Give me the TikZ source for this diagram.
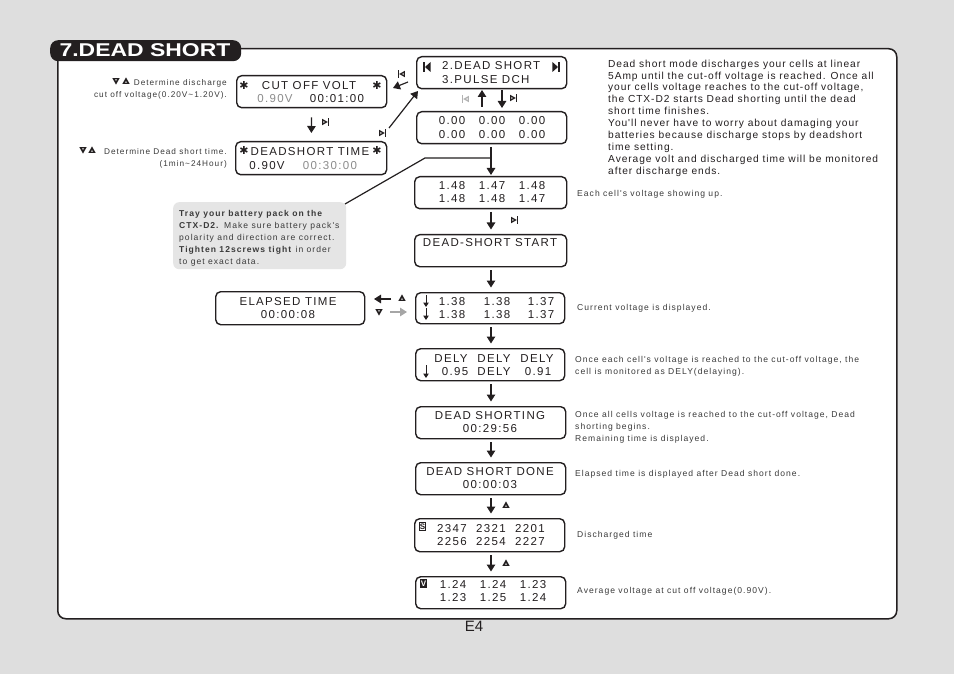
\documentclass[tikz,border=0pt]{standalone}
\usepackage{fontspec}
\usetikzlibrary{arrows.meta}
\setmainfont{Liberation Sans}
\newfontfamily\lcdf[LetterSpace=11.5]{Liberation Sans}
\newfontfamily\capf[LetterSpace=12]{Liberation Sans}
\newfontfamily\parf[LetterSpace=9.2]{Liberation Sans}
\newfontfamily\symf{DejaVu Sans}
\definecolor{bgc}{HTML}{DEDEDE}
\definecolor{ink}{HTML}{231F20}
\definecolor{dimc}{HTML}{8C8C8C}
\definecolor{capc}{HTML}{3A3A3A}
\definecolor{notec}{HTML}{E5E5E5}
\tikzset{
 lcdbox/.style={draw=ink,line width=1.4pt,rounded corners=5pt,fill=white,inner sep=0pt,anchor=north west},
 lcd/.style={font=\lcdf\fontsize{11.5}{13}\selectfont,text=ink,inner sep=0pt,anchor=mid,yshift=-2pt},
 lcddim/.style={lcd,text=dimc},
 lcdl/.style={lcd,anchor=mid west},
 lcdstar/.style={font=\symf\fontsize{11}{12}\selectfont,text=ink,inner sep=0pt},
 capt/.style={font=\capf\fontsize{8.55}{10}\selectfont,text=capc,inner sep=0pt,anchor=mid west,yshift=-1pt},
 capr/.style={capt,font=\capf\fontsize{8.25}{10}\selectfont,anchor=mid east},
 para/.style={font=\parf\fontsize{10.2}{12}\selectfont,text=ink,inner sep=0pt,anchor=mid west,yshift=-1pt},
 tiptext/.style={capt},
 flow/.style={draw=ink,line width=1.2pt,-{Triangle[length=7pt,width=8.5pt]}},
 flowg/.style={flow,draw=gray!70,-{Triangle[length=7pt,width=8.5pt,color=gray!70]}},
 lead/.style={draw=ink,line width=1.2pt},
 mini/.style={draw=ink,line width=1pt,-{Triangle[length=4.5pt,width=5.5pt]}},
 pics/btnup/.style={code={\fill[#1] (-3.6,2.8) -- (3.6,2.8) -- (0,-3.6) -- cycle;
   \fill[white] (-1,1.7) -- (1,1.7) -- (0,.2) -- cycle;}},
 pics/btndn/.style={code={\fill[#1] (-3.6,-2.8) -- (3.6,-2.8) -- (0,3.6) -- cycle;
   \fill[white] (-1,-1.7) -- (1,-1.7) -- (0,-.2) -- cycle;}},
 pics/btnnext/.style={code={\fill[#1] (-3.8,-3.2) -- (-3.8,3.2) -- (1.8,0) -- cycle;
   \fill[white] (-2.7,-.9) -- (-2.7,.9) -- (-1.1,0) -- cycle;
   \fill[#1] (2.2,-3.6) rectangle (3.2,3.6);}},
 pics/btnprev/.style={code={\fill[#1] (3.8,-3.2) -- (3.8,3.2) -- (-1.8,0) -- cycle;
   \fill[white] (2.7,-.9) -- (2.7,.9) -- (1.1,0) -- cycle;
   \fill[#1] (-2.2,-3.6) rectangle (-3.2,3.6);}},
 pics/menuprev/.style={code={\fill[ink] (-3.6,-5) rectangle (-2.4,5);
   \fill[ink] (3.6,-5) -- (3.6,5) -- (-2,0) -- cycle;}},
 pics/menunext/.style={code={\fill[ink] (3.6,-5) rectangle (2.4,5);
   \fill[ink] (-3.6,-5) -- (-3.6,5) -- (2,0) -- cycle;}},
}
\newcounter{tn}
\newcommand{\TT}[4]{\stepcounter{tn}\node[#1] (t\arabic{tn}) at (#2,#3) {#4};}
\newcommand{\LBox}[5]{\node[lcdbox,minimum width=#4pt-#2pt,minimum height=#5pt-#3pt] (#1) at (#2,#3) {};}
\begin{document}
\begin{tikzpicture}[x=1pt,y=-1pt]
\useasboundingbox (0,0) rectangle (954,674);
\fill[bgc] (0,0) rectangle (954,674);
\node[draw=ink,line width=1.5pt,fill=white,rounded corners=8pt,inner sep=0pt,anchor=north west,minimum width=839pt,minimum height=570pt] (frame) at (57,48) {};
\node[fill=ink,rounded corners=8pt,inner sep=0pt,anchor=north west,minimum width=191pt,minimum height=21pt] (titlebar) at (50,40) {};
\node[font=\bfseries\fontsize{18.5}{20}\selectfont,text=white,inner sep=0pt,xscale=1.24] (title) at (145,50) {7.DEAD SHORT};
\node[font=\fontsize{15}{16}\selectfont,text=ink,inner sep=0pt] (page) at (474,626.5) {E4};
% boxes
\LBox{cut}{236}{75}{386}{107}
\LBox{time}{235}{141}{386}{174}
\LBox{menu}{416}{56}{566}{88}
\LBox{zero}{416}{111}{566}{143}
\LBox{cells}{414}{176}{566}{208}
\LBox{start}{414}{234}{566}{266}
\LBox{elapsed}{215}{291}{364}{324}
\LBox{cur}{415}{292}{564}{323}
\LBox{dely}{415}{348}{564}{380}
\LBox{shorting}{415}{406}{565}{438}
\LBox{done}{415}{462}{565}{494}
\LBox{dis}{414}{518}{564}{551}
\LBox{avg}{415}{576}{565}{608}
\node[fill=notec,rounded corners=6pt,inner sep=0pt,anchor=north west,minimum width=173pt,minimum height=67pt] (tip) at (173,202) {};
% lcd text
\TT{lcdstar}{244}{85}{✱}\TT{lcdstar}{377}{85}{✱}
\TT{lcd}{309}{85}{CUT OFF VOLT}
\TT{lcddim}{275}{98}{0.90V}\TT{lcd}{337}{98}{00:01:00}
\TT{lcdstar}{244}{150}{✱}\TT{lcdstar}{377}{150}{✱}
\TT{lcd}{310}{151}{DEADSHORT TIME}
\TT{lcd}{267}{165}{0.90V}\TT{lcddim}{330}{165}{00:30:00}
\TT{lcdl}{442}{65}{2.DEAD SHORT}\TT{lcdl}{442}{79}{3.PULSE DCH}
\foreach \c in {452,492,532}{\foreach \r in {120,134}{\TT{lcd}{\c}{\r}{0.00}}}
\TT{lcd}{452}{185}{1.48}\TT{lcd}{492}{185}{1.47}\TT{lcd}{532}{185}{1.48}
\TT{lcd}{452}{198}{1.48}\TT{lcd}{492}{198}{1.48}\TT{lcd}{532}{198}{1.47}
\TT{lcd}{490}{242}{DEAD-SHORT START}
\TT{lcd}{288}{301}{ELAPSED TIME}\TT{lcd}{288}{314}{00:00:08}
\TT{lcd}{452}{301}{1.38}\TT{lcd}{497}{301}{1.38}\TT{lcd}{541}{301}{1.37}
\TT{lcd}{452}{314}{1.38}\TT{lcd}{497}{314}{1.38}\TT{lcd}{541}{314}{1.37}
\TT{lcd}{451}{358}{DELY}\TT{lcd}{494}{358}{DELY}\TT{lcd}{537}{358}{DELY}
\TT{lcd}{455}{371}{0.95}\TT{lcd}{494}{371}{DELY}\TT{lcd}{538}{371}{0.91}
\TT{lcd}{490}{415}{DEAD SHORTING}\TT{lcd}{490}{428}{00:29:56}
\TT{lcd}{490}{471}{DEAD SHORT DONE}\TT{lcd}{490}{484}{00:00:03}
\TT{lcd}{452}{528}{2347}\TT{lcd}{491}{528}{2321}\TT{lcd}{530}{528}{2201}
\TT{lcd}{452}{541}{2256}\TT{lcd}{491}{541}{2254}\TT{lcd}{530}{541}{2227}
\TT{lcd}{453}{584}{1.24}\TT{lcd}{493}{584}{1.24}\TT{lcd}{533}{584}{1.23}
\TT{lcd}{453}{597}{1.23}\TT{lcd}{493}{597}{1.25}\TT{lcd}{533}{597}{1.24}
\node[draw=ink,line width=.8pt,inner sep=0pt,minimum width=6.5pt,minimum height=8.5pt,font=\fontsize{8}{8}\selectfont\bfseries,text=ink] (sflag) at (422.5,526.5) {S};
\node[fill=ink,inner sep=0pt,minimum width=7.5pt,minimum height=9.5pt,font=\fontsize{8}{8}\selectfont\bfseries,text=white] (vflag) at (423.5,583.5) {V};
% connectors
\draw[flow,shorten <=9pt,shorten >=8pt] (cut) -- (time);
\coordinate (mtl) at (418,91);\coordinate (tr) at (389,128);
\draw[flow] (tr) -- (mtl);
\coordinate (ml) at (408,82);\coordinate (cr) at (393,88);
\draw[flow] (ml) -- (cr);
\coordinate (u1) at (482,107);\coordinate (u2) at (482,90);
\draw[flow] (u1) -- (u2);
\coordinate (d1) at (502,90);\coordinate (d2) at (502,108);
\draw[flow] (d1) -- (d2);
\coordinate (z) at (491,143);\coordinate (c) at (491,176);
\draw[flow,shorten <=4pt,shorten >=1pt] (z) -- (c);
\coordinate (tj) at (491,158);\coordinate (tk) at (425,158);\coordinate (tq) at (345,204);
\draw[lead] (tj) -- (tk) -- (tq);
\foreach \a/\b/\ya/\yb in {cells/start/208/234,start/cur/266/292,cur/dely/323/348,dely/shorting/380/406,shorting/done/438/462,done/dis/494/518,dis/avg/551/576}{
  \coordinate (\a-o) at (491,\ya);\coordinate (\b-i) at (491,\yb);
  \draw[flow,shorten <=4pt,shorten >=4.5pt] (\a-o) -- (\b-i);}
\coordinate (la) at (391,299);\coordinate (lb) at (374,299);
\draw[flow] (la) -- (lb);
\coordinate (ga) at (390,312);\coordinate (gb) at (407,312);
\draw[flowg] (ga) -- (gb);
% arrows inside the display
\coordinate (i1) at (426,295);\coordinate (i2) at (426,307);
\coordinate (i3) at (426,308);\coordinate (i4) at (426,320);
\coordinate (i5) at (426,365);\coordinate (i6) at (426,378);
\draw[mini] (i1) -- (i2);\draw[mini] (i3) -- (i4);\draw[mini] (i5) -- (i6);
% button icons
\pic at (326,122) {btnnext=ink};
\pic at (401,74) {btnprev=ink};
\pic at (383,133) {btnnext=ink};
\pic at (465,99) {btnprev=gray!60};
\pic at (514,98) {btnnext=ink};
\pic at (515,220) {btnnext=ink};
\pic at (427,67) {menuprev};
\pic at (556,67) {menunext};
\pic at (116,81) {btndn=ink};\pic at (126,81) {btnup=ink};
\pic at (83,150) {btndn=ink};\pic at (92,150) {btnup=ink};
\pic at (402,298) {btnup=ink};\pic at (379,312) {btndn=ink};
\pic at (506,505) {btnup=ink};\pic at (506,563) {btnup=ink};
% side captions
\TT{capr}{227}{82}{Determine discharge}
\TT{capr}{227}{93.5}{cut off voltage(0.20V\textasciitilde 1.20V).}
\TT{capr}{227}{151}{Determine Dead short time.}
\TT{capr}{227}{162.5}{(1min\textasciitilde 24Hour)}
\TT{capt}{577}{193}{Each cell's voltage showing up.}
\TT{capt}{577}{307}{Current voltage is displayed.}
\TT{capt}{575}{359}{Once each cell's voltage is reached to the cut-off voltage, the}
\TT{capt}{575}{371}{cell is monitored as DELY(delaying).}
\TT{capt}{575}{414}{Once all cells voltage is reached to the cut-off voltage, Dead}
\TT{capt}{575}{426}{shorting begins.}
\TT{capt}{575}{438}{Remaining time is displayed.}
\TT{capt}{575}{473}{Elapsed time is displayed after Dead short done.}
\TT{capt}{577}{534}{Discharged time}
\TT{capt}{577}{590}{Average voltage at cut off voltage(0.90V).}
% tip
\TT{tiptext}{179}{212.5}{\textbf{Tray your battery pack on the}}
\TT{tiptext}{179}{225}{\textbf{CTX-D2.} Make sure battery pack's}
\TT{tiptext}{179}{237}{polarity and direction are correct.}
\TT{tiptext}{179}{249}{\textbf{Tighten 12screws tight} in order}
\TT{tiptext}{179}{261}{to get exact data.}
% right paragraph
\TT{para}{608}{64}{Dead short mode discharges your cells at linear}
\TT{para}{608}{75.5}{5Amp until the cut-off voltage is reached. Once all}
\TT{para}{608}{87}{your cells voltage reaches to the cut-off voltage,}
\TT{para}{608}{99}{the CTX-D2 starts Dead shorting until the dead}
\TT{para}{608}{111}{short time finishes.}
\TT{para}{608}{123}{You'll never have to worry about damaging your}
\TT{para}{608}{135}{batteries because discharge stops by deadshort}
\TT{para}{608}{147}{time setting.}
\TT{para}{608}{159}{Average volt and discharged time will be monitored}
\TT{para}{608}{171}{after discharge ends.}
\end{tikzpicture}
\end{document}
